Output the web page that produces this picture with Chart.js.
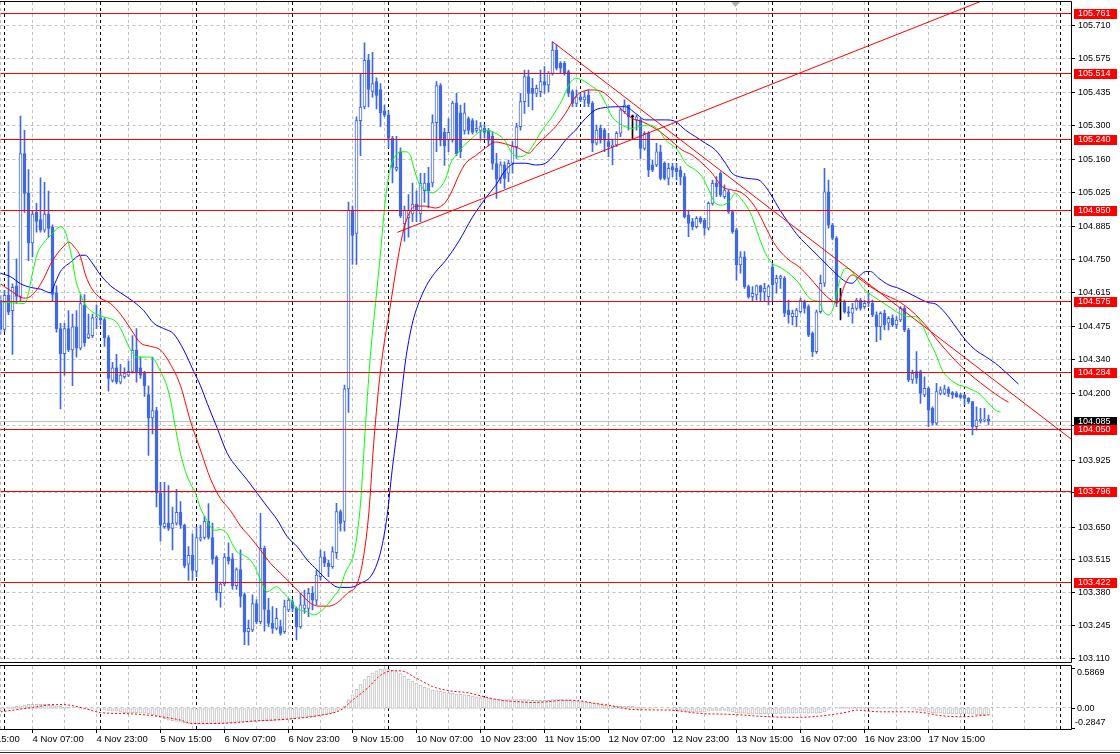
<!DOCTYPE html>
<html>
<head>
<meta charset="utf-8">
<script src="https://cdn.jsdelivr.net/npm/chart.js@4.4.1/dist/chart.umd.min.js"></script>
<style>
  html, body { margin: 0; padding: 0; background: #fff; overflow: hidden; }
  #wrap { position: relative; width: 1120px; height: 754px; background: #fff; }
  canvas { position: absolute; left: 0; }
  #main { top: 0; }
  #macd { top: 665px; }
</style>
</head>
<body>
<div id="wrap">
  <canvas id="main" width="1120" height="664"></canvas>
  <canvas id="macd" width="1120" height="89"></canvas>
</div>
<script>
// USDJPY-like H1 candles, 3 Nov 23:00 .. 18 Nov 06:00 (bar index 0..247)
const opens = [
  104.58,104.46,104.60,104.537,104.639,104.595,105.182,105.020,104.815,104.940,
  104.911,104.867,104.933,104.881,104.610,104.463,104.360,104.463,104.375,104.470,
  104.382,104.559,104.426,104.434,104.507,104.507,104.500,104.426,104.250,104.302,
  104.243,104.265,104.272,104.287,104.375,104.302,104.280,104.192,104.096,104.126,
  103.788,103.649,103.664,103.642,103.664,103.708,103.656,103.495,103.532,103.466,
  103.598,103.605,103.671,103.605,103.524,103.378,103.414,103.524,103.517,103.407,
  103.473,103.370,103.218,103.225,103.334,103.259,103.560,103.307,103.252,103.232,
  103.239,103.218,103.307,103.341,103.314,103.239,103.314,103.314,103.376,103.348,
  103.444,103.526,103.499,103.485,103.543,103.711,103.671,104.215,104.950,104.854,
  105.317,105.373,105.565,105.437,105.477,105.445,105.357,105.341,105.245,105.117,
  105.189,104.894,104.918,104.934,104.974,104.934,105.029,105.061,105.061,105.309,
  105.461,105.269,105.237,105.237,105.389,105.349,105.277,105.325,105.317,105.277,
  105.277,105.285,105.277,105.253,105.141,105.080,105.135,105.101,105.142,105.210,
  105.292,105.395,105.498,105.450,105.429,105.436,105.477,105.463,105.511,105.607,
  105.552,105.552,105.518,105.436,105.388,105.415,105.402,105.422,105.388,105.224,
  105.285,105.278,105.231,105.210,105.217,105.265,105.354,105.381,105.333,105.320,
  105.320,105.203,105.265,105.135,105.135,105.189,105.142,105.080,105.128,105.121,
  105.114,105.087,104.929,104.902,104.882,104.916,104.909,104.875,104.977,105.059,
  105.101,105.005,105.025,104.943,104.868,104.724,104.758,104.635,104.594,104.601,
  104.639,104.614,104.594,104.717,104.649,104.669,104.669,104.539,104.512,104.512,
  104.532,104.573,104.553,104.443,104.368,104.532,104.649,105.025,104.888,104.834,
  104.573,104.573,104.532,104.526,104.546,104.580,104.553,104.573,104.567,104.519,
  104.471,104.526,104.485,104.505,104.478,104.498,104.546,104.457,104.252,104.286,
  104.286,104.190,104.218,104.135,104.074,104.197,104.197,104.215,104.200,104.197,
  104.190,104.190,104.176,104.163,104.060,104.085,104.087,104.090
];
const highs = [
  104.60,104.62,104.82,104.647,104.749,105.336,105.277,105.116,104.947,104.977,
  105.082,105.064,105.028,104.889,104.639,104.485,104.485,104.537,104.522,104.537,
  104.603,104.603,104.522,104.522,104.559,104.537,104.507,104.434,104.324,104.357,
  104.316,104.302,104.330,104.434,104.463,104.346,104.287,104.228,104.346,104.140,
  103.832,103.832,103.818,103.730,103.803,103.752,103.660,103.568,103.620,103.649,
  103.656,103.693,103.744,103.664,103.530,103.422,103.539,103.583,103.539,103.480,
  103.554,103.378,103.266,103.369,103.350,103.704,103.570,103.355,103.321,103.314,
  103.266,103.348,103.355,103.350,103.320,103.376,103.389,103.396,103.403,103.471,
  103.553,103.547,103.512,103.567,103.745,103.719,104.231,104.982,104.966,105.333,
  105.509,105.637,105.589,105.597,105.493,105.469,105.381,105.357,105.253,105.253,
  105.205,104.966,105.013,105.061,105.029,105.101,105.101,105.125,105.341,105.477,
  105.469,105.285,105.325,105.397,105.429,105.381,105.389,105.333,105.325,105.317,
  105.309,105.301,105.285,105.269,105.183,105.148,105.148,105.155,105.231,105.306,
  105.429,105.525,105.525,105.491,105.463,105.525,105.539,105.518,105.641,105.628,
  105.559,105.559,105.525,105.443,105.443,105.429,105.436,105.443,105.395,105.299,
  105.299,105.285,105.265,105.237,105.272,105.367,105.402,105.381,105.340,105.340,
  105.326,105.272,105.272,105.155,105.224,105.217,105.148,105.142,105.142,105.142,
  105.128,105.101,104.950,104.916,104.923,104.923,104.916,104.984,105.073,105.087,
  105.107,105.053,105.032,104.950,104.875,104.779,104.779,104.642,104.635,104.642,
  104.642,104.649,104.642,104.730,104.683,104.683,104.676,104.580,104.539,104.546,
  104.587,104.580,104.560,104.450,104.539,104.683,105.121,105.073,104.895,104.841,
  104.628,104.580,104.553,104.567,104.587,104.587,104.580,104.608,104.580,104.532,
  104.532,104.539,104.512,104.519,104.512,104.553,104.553,104.464,104.293,104.368,
  104.293,104.265,104.224,104.142,104.238,104.224,104.231,104.224,104.204,104.204,
  104.197,104.194,104.180,104.163,104.142,104.135,104.135,104.108
];
const lows = [
  104.44,104.45,104.52,104.357,104.566,104.573,104.940,104.742,104.757,104.859,
  104.859,104.859,104.837,104.573,104.448,104.133,104.272,104.368,104.228,104.346,
  104.375,104.390,104.422,104.426,104.463,104.478,104.390,104.206,104.243,104.236,
  104.236,104.258,104.265,104.280,104.243,104.258,104.184,103.942,104.030,103.730,
  103.590,103.642,103.634,103.554,103.656,103.642,103.480,103.429,103.430,103.444,
  103.590,103.598,103.598,103.495,103.348,103.319,103.407,103.495,103.392,103.392,
  103.319,103.165,103.163,103.218,103.250,103.250,103.220,103.239,103.211,103.225,
  103.204,103.211,103.300,103.300,103.184,103.232,103.293,103.280,103.307,103.328,
  103.430,103.485,103.444,103.478,103.519,103.631,103.631,104.119,104.726,104.726,
  105.173,105.365,105.373,105.413,105.365,105.293,105.333,105.205,105.061,105.109,
  104.918,104.822,104.838,104.902,104.902,104.902,104.982,104.958,105.045,105.189,
  105.213,105.133,105.189,105.229,105.173,105.165,105.261,105.261,105.261,105.269,
  105.237,105.245,105.213,105.117,104.998,105.059,105.039,105.066,105.101,105.162,
  105.278,105.347,105.374,105.361,105.415,105.415,105.429,105.436,105.504,105.525,
  105.511,105.504,105.415,105.374,105.374,105.395,105.374,105.374,105.189,105.217,
  105.224,105.189,105.169,105.135,105.210,105.251,105.347,105.278,105.244,105.278,
  105.162,105.196,105.087,105.107,105.128,105.073,105.073,105.053,105.087,105.073,
  105.053,104.916,104.840,104.868,104.875,104.895,104.847,104.868,104.970,105.005,
  105.005,104.998,104.936,104.854,104.662,104.690,104.628,104.587,104.573,104.580,
  104.573,104.573,104.560,104.573,104.608,104.628,104.512,104.485,104.478,104.471,
  104.526,104.526,104.430,104.348,104.361,104.526,104.635,104.875,104.827,104.553,
  104.498,104.526,104.512,104.485,104.539,104.539,104.546,104.553,104.512,104.409,
  104.416,104.457,104.457,104.471,104.464,104.491,104.450,104.245,104.238,104.238,
  104.156,104.183,104.060,104.067,104.067,104.190,104.190,104.183,104.176,104.180,
  104.176,104.149,104.156,104.026,104.046,104.074,104.080,104.067
];
const closes = [
  104.46,104.60,104.53,104.632,104.595,105.182,105.018,104.815,104.933,104.903,
  104.867,104.933,104.874,104.603,104.463,104.360,104.463,104.375,104.470,104.382,
  104.566,104.404,104.441,104.507,104.510,104.500,104.426,104.258,104.302,104.243,
  104.272,104.280,104.287,104.375,104.280,104.272,104.228,104.096,104.126,103.788,
  103.656,103.664,103.642,103.664,103.708,103.656,103.488,103.532,103.470,103.605,
  103.605,103.671,103.605,103.517,103.378,103.414,103.524,103.510,103.407,103.473,
  103.363,103.216,103.232,103.334,103.259,103.560,103.310,103.252,103.232,103.273,
  103.211,103.321,103.348,103.314,103.239,103.328,103.328,103.376,103.348,103.451,
  103.526,103.499,103.485,103.547,103.711,103.663,104.215,104.950,104.846,105.317,
  105.373,105.565,105.445,105.469,105.421,105.349,105.341,105.245,105.125,105.125,
  104.926,104.950,104.950,104.974,104.950,105.061,105.061,105.029,105.309,105.461,
  105.237,105.213,105.269,105.389,105.181,105.189,105.349,105.277,105.269,105.285,
  105.293,105.269,105.237,105.141,105.077,105.135,105.080,105.142,105.210,105.292,
  105.395,105.498,105.429,105.429,105.450,105.477,105.463,105.511,105.607,105.532,
  105.532,105.511,105.429,105.388,105.415,105.402,105.415,105.388,105.224,105.278,
  105.237,105.237,105.210,105.217,105.265,105.361,105.381,105.333,105.333,105.333,
  105.203,105.265,105.114,105.114,105.189,105.080,105.080,105.121,105.114,105.107,
  105.087,104.923,104.895,104.882,104.916,104.902,104.875,104.977,105.059,105.046,
  105.012,105.032,104.943,104.861,104.724,104.758,104.635,104.594,104.608,104.639,
  104.614,104.628,104.635,104.642,104.669,104.676,104.526,104.519,104.526,104.539,
  104.580,104.546,104.436,104.368,104.532,104.649,105.025,104.888,104.834,104.567,
  104.573,104.532,104.526,104.546,104.580,104.546,104.567,104.567,104.519,104.471,
  104.526,104.478,104.505,104.478,104.498,104.546,104.457,104.252,104.279,104.259,
  104.197,104.218,104.128,104.074,104.204,104.211,104.215,104.197,104.190,104.183,
  104.180,104.176,104.163,104.060,104.087,104.090,104.090,104.085
];

// Alligator lines (bar index -> price)
const lipsBars = [0,6,8.3,9.2,10.8,12.5,15,16.25,17,18,18.75,20,21.25,22.5,25,26.7,28.75,30,31.25,32.5,
  34.2,36.7,38.3,40,41.25,42.5,43.75,45,46.25,47.5,48.75,50,51.25,52.5,53.75,55,56.7,57.9,59.2,60.8,
  62.5,64,65,66.7,69,70.8,72.5,74,76.7,78.3,80,81.7,83.3,85,86.25,87.5,88.5,90,91.25,92.5,
  93.75,95,96.25,97.5,98.75,100,101.25,102.5,103.3,104.6,106.7,107.9,109.6,111.25,112.5,114.2,115.8,117.9,119.6,121.25,
  122.9,125.2,126.25,127.9,129.6,131.25,132.9,135.4,137.9,140.4,142.1,143.75,145.4,147.9,149.6,151.25,152.9,154.6,156.25,157.9,
  159.6,162.1,164.6,166.25,167.9,169.6,171.25,173.75,175.4,177.1,178.75,180.4,182.1,183.75,185.4,187.1,187.9,189.6,191.25,192.9,
  194.6,197.1,199.6,201.25,202.9,204.6,205.8,207.1,208.3,209.6,211.25,212.5,213.75,215.4,217.1,219.6,222.1,224.6,227.1,228.75,
  230.4,232.1,233.75,235.4,237.1,239.6,241.25,242.9,244.6,246.25,248.75,250];
const lipsValues = [104.573,104.566,104.713,104.771,104.815,104.845,104.881,104.859,104.815,104.742,
  104.668,104.603,104.559,104.537,104.515,104.507,104.493,104.463,104.419,104.375,
  104.346,104.346,104.338,104.287,104.243,104.170,104.053,103.950,103.876,103.825,
  103.788,103.725,103.686,103.649,103.634,103.638,103.620,103.580,103.545,103.532,
  103.512,103.471,103.430,103.382,103.403,103.376,103.348,103.314,103.300,103.287,
  103.300,103.328,103.362,103.403,103.463,103.500,103.550,103.745,104.069,104.358,
  104.566,104.774,104.998,105.125,105.173,105.189,105.189,105.173,105.125,105.061,
  105.029,105.021,105.037,105.077,105.141,105.181,105.213,105.245,105.269,105.277,
  105.272,105.250,105.231,105.183,105.169,105.176,105.210,105.278,105.333,105.402,
  105.463,105.491,105.484,105.457,105.436,105.388,105.333,105.306,105.292,105.285,
  105.292,105.299,105.278,105.237,105.217,105.189,105.142,105.114,105.087,105.032,
  104.977,104.970,104.984,105.018,104.991,104.950,104.923,104.840,104.772,104.731,
  104.717,104.690,104.649,104.608,104.580,104.573,104.532,104.519,104.553,104.649,
  104.710,104.704,104.676,104.635,104.608,104.580,104.553,104.526,104.512,104.512,
  104.478,104.416,104.361,104.293,104.259,104.231,104.224,104.211,104.197,104.170,
  104.128,104.120];

const teethBars = [0,3.3,5.8,7.5,9.2,10.8,12.5,14.2,15.8,17.1,18.3,20,21.25,22.9,25,27.5,30,32.5,35,37.5,
  40,42.5,45,47.5,50,52.5,55,57.5,60,62.5,65,67.5,70,72.5,75,77.5,79.6,82.1,84.2,86.7,
  89.2,90.8,92.1,93.3,94.6,95.8,97.1,98.3,99.6,100.8,102.1,103.75,106.25,108.75,111.25,112.9,114.6,116.25,118.75,121.25,
  123.75,127.1,129.6,132.1,133.75,136.25,138.75,141.25,143.75,145.4,147.9,150.4,152.9,155.4,157.9,160.4,162.9,165.4,167.9,170.4,
  172.9,175.4,177.9,180.4,182.9,185.4,188.75,191.25,192.9,194.6,197.1,199.6,202.1,204.6,207.1,209.2,211.25,212.9,214.6,217,
  220,225,230,235,240,245,250,252];
const teethValues = [104.647,104.610,104.588,104.595,104.625,104.668,104.727,104.771,104.801,104.818,
  104.801,104.757,104.683,104.625,104.588,104.566,104.522,104.463,104.404,104.390,
  104.375,104.316,104.228,104.082,103.964,103.845,103.765,103.715,103.652,103.605,
  103.553,103.499,103.458,103.417,103.376,103.335,103.323,103.323,103.337,103.376,
  103.417,103.530,103.710,103.991,104.231,104.390,104.518,104.646,104.774,104.870,
  104.934,104.966,104.966,104.958,104.982,105.029,105.093,105.141,105.173,105.205,
  105.229,105.217,105.203,105.183,105.210,105.251,105.292,105.347,105.415,105.436,
  105.443,105.436,105.402,105.361,105.326,105.313,105.292,105.265,105.231,105.196,
  105.176,105.142,105.101,105.046,105.032,105.020,104.960,104.881,104.827,104.786,
  104.745,104.717,104.676,104.628,104.587,104.569,104.649,104.683,104.669,104.640,
  104.610,104.570,104.500,104.400,104.310,104.240,104.180,104.160];

const jawBars = [0,2.5,5,7.5,10,12.5,13.75,15,17.5,20,21.25,22.5,25,27.5,30,33.3,35.8,38.3,40.8,43.3,
  45.8,48.3,50,51.7,54.2,56.7,59.2,61.5,64.2,66.7,69.2,71.7,74.2,76.7,79.2,81.7,84.6,87.5,90,92.5,
  94.2,95.5,96.7,97.9,99.6,101.25,102.9,104.6,106.5,108.5,111.25,114.6,117.9,121.25,123.75,126.25,128.75,131.25,133.75,136.25,
  138.75,141.25,143.75,146.25,148.75,151.25,153.75,156.25,158.75,161.25,163.75,166.25,168.75,171.25,173.75,176.25,178.75,181.25,182.9,184.6,
  187.7,189.6,191.25,192.9,194.6,197.1,199.6,202.1,204.6,207.1,209.2,211.25,212.9,214.6,216.25,217.5,219.6,222.1,224.6,227.1,
  229.6,232.1,233.75,236.25,238.75,241.25,243.75,246.25,248.75,250.2,254.5];
const jawValues = [104.690,104.676,104.647,104.632,104.625,104.610,104.654,104.698,104.735,104.764,
  104.764,104.742,104.683,104.639,104.610,104.573,104.537,104.485,104.463,104.441,
  104.375,104.287,104.228,104.155,104.053,103.950,103.891,103.845,103.786,103.731,
  103.677,103.608,103.567,103.512,103.471,103.430,103.400,103.400,103.417,103.444,
  103.500,103.580,103.700,103.880,104.100,104.330,104.480,104.570,104.640,104.690,
  104.742,104.822,104.918,104.998,105.050,105.114,105.142,105.142,105.135,105.142,
  105.183,105.237,105.278,105.326,105.361,105.371,105.374,105.374,105.347,105.320,
  105.320,105.320,105.313,105.278,105.251,105.224,105.196,105.142,105.101,105.087,
  105.078,105.073,105.046,105.005,104.957,104.895,104.840,104.799,104.758,104.717,
  104.683,104.656,104.649,104.676,104.697,104.697,104.669,104.642,104.628,104.608,
  104.587,104.569,104.564,104.526,104.471,104.416,104.375,104.348,104.320,104.300,
  104.235];

// trend lines drawn on the chart
const supportBars = [99.2, 250];
const supportPrices = [104.858, 105.839];
const resistBars = [138, 267.75];
const resistPrices = [105.641, 104.008];

// horizontal levels and current price
const levels = [105.761, 105.514, 105.240, 104.950, 104.575, 104.284, 104.050, 103.796, 103.422];
const lastPrice = 104.085;

// MACD
const macdHist = [
  0.01,0.01,0.02,0.02,0.03,0.04,0.05,
  0.06,0.06,0.06,0.06,0.06,0.06,0.05,0.04,0.03,0.02,
  0.01,0.00,0.00,-0.01,-0.01,-0.01,-0.01,-0.01,-0.01,-0.02,-0.03,-0.04,-0.04,-0.05,
  -0.06,-0.06,-0.06,-0.06,-0.07,-0.07,-0.08,-0.09,-0.11,-0.13,
  -0.15,-0.17,-0.18,-0.19,-0.20,-0.21,-0.22,-0.23,-0.23,-0.23,
  -0.23,-0.23,-0.23,-0.22,-0.22,-0.22,-0.21,-0.21,-0.20,-0.20,-0.20,-0.20,-0.19,-0.19,-0.18,-0.18,-0.18,-0.18,-0.17,-0.17,-0.16,-0.16,
  -0.15,-0.14,-0.14,-0.13,-0.12,-0.12,-0.11,-0.10,-0.09,-0.08,-0.06,-0.04,
  -0.02,0.04,0.13,0.20,0.28,0.35,0.42,0.47,0.52,0.55,0.57,0.58,0.57,0.56,0.54,0.51,
  0.47,0.43,0.40,0.37,0.34,0.31,0.29,0.27,0.26,0.25,0.24,0.23,0.22,0.21,0.21,0.20,0.19,0.18,0.17,0.16,
  0.16,0.15,0.14,0.14,0.13,0.13,0.13,0.13,0.13,0.13,0.13,0.13,0.12,
  0.12,0.12,0.12,0.12,0.13,0.13,0.13,0.12,0.12,0.11,0.11,0.10,0.10,0.09,0.08,0.07,0.06,
  0.05,0.04,0.04,0.03,0.03,0.03,0.03,0.03,0.02,0.02,0.01,0.01,0.01,0.00,0.00,0.00,-0.01,
  -0.01,-0.02,-0.03,-0.04,-0.05,-0.05,-0.05,-0.05,-0.05,-0.04,-0.03,-0.03,-0.03,-0.03,-0.04,-0.05,-0.06,
  -0.07,-0.07,-0.08,-0.08,-0.08,-0.08,-0.08,-0.08,-0.08,-0.08,-0.08,-0.07,-0.07,-0.07,-0.07,-0.07,
  -0.07,-0.07,-0.07,-0.07,-0.06,-0.05,
  -0.02,0.00,0.01,0.02,0.02,0.02,0.02,0.02,0.02,0.02,0.02,0.02,0.01,0.01,0.01,0.01,0.01,0.01,0.01,0.00,0.00,-0.01,-0.02,-0.03,-0.04,
  -0.05,-0.06,-0.07,-0.07,-0.08,-0.08,-0.08,-0.08,-0.08,-0.08,-0.08,-0.08,-0.09,-0.09,-0.09,-0.09
];
const signalBars = [0,8,14,17,21,25,33,40,45,48,53,58,63,72,80,85,88,92,95,98,
  100,104,108,112,117,121,125,129,133,137,141,145,148,152,158,167,175,183,192,200,
  203,207,212,214,217,220,228,232,234,240,247];
const signalValues = [-0.05,0.015,0.058,0.05,0.0,-0.06,-0.08,-0.12,-0.17,-0.22,-0.22,-0.21,-0.185,-0.155,-0.10,-0.024,0.12,0.31,0.485,0.55,
  0.55,0.44,0.32,0.26,0.228,0.17,0.121,0.10,0.087,0.10,0.121,0.11,0.08,0.048,-0.015,-0.024,-0.073,-0.087,-0.121,-0.13,
  -0.121,-0.097,-0.049,-0.024,-0.039,-0.049,-0.049,-0.073,-0.097,-0.121,-0.097];
const macdTicks = [0.5869, 0.00, -0.2847];

// axes
const priceTicks = [105.710,105.575,105.435,105.300,105.160,105.025,104.885,104.750,104.615,104.475,
  104.340,104.200,104.065,103.925,103.790,103.650,103.515,103.380,103.245,103.110];
const gridBars = [0,8,16,24,32,40,48,56,64,72,80,88,96,104,112,120,128,136,144,152,160,168,176,184,192,200,208,216,224,232,240,248,256,264];
const daySeparators = [1,25,49,73,97,121,145,169,193,217,241,265];
const timeLabelBars = [-8,8,24,40,56,72,88,104,120,136,152,168,184,200,216,232];
const timeLabels = ['3 Nov 15:00','4 Nov 07:00','4 Nov 23:00','5 Nov 15:00','6 Nov 07:00','6 Nov 23:00',
  '9 Nov 15:00','10 Nov 07:00','10 Nov 23:00','11 Nov 15:00','12 Nov 07:00','12 Nov 23:00',
  '13 Nov 15:00','16 Nov 07:00','16 Nov 23:00','17 Nov 15:00'];

const BLUE = '#4169e1';
const FONT = '9px "Liberation Sans", Arial, sans-serif';
const XMAX = 267.75;
const bars = opens.map((_, i) => i);
const isDoji = i => opens[i] === closes[i];
const pts = (xs, ys) => xs.map((x, k) => ({x: x, y: ys[k]}));
const row = v => Math.round(v) + 0.5;
const col = v => Math.floor(v) + 0.5;

function drawVerticalGrid(ctx, a, xs) {
  ctx.lineWidth = 1;
  ctx.setLineDash([3, 3]);
  ctx.strokeStyle = '#c0c0c0';
  ctx.beginPath();
  gridBars.forEach(i => { const p = col(xs.getPixelForValue(i)); ctx.moveTo(p, a.top); ctx.lineTo(p, a.bottom); });
  ctx.stroke();
  ctx.strokeStyle = '#000';
  ctx.beginPath();
  daySeparators.forEach(i => { const p = col(xs.getPixelForValue(i)); if (p < a.right) { ctx.moveTo(p, a.top); ctx.lineTo(p, a.bottom); } });
  ctx.stroke();
  ctx.setLineDash([]);
}

const mainDecor = {
  id: 'mainDecor',
  beforeDatasetsDraw(chart) {
    const {ctx, chartArea: a, scales: {x: xs, y: ys}} = chart;
    ctx.save();
    ctx.lineWidth = 1;
    ctx.setLineDash([3, 3]);
    ctx.strokeStyle = '#c0c0c0';
    ctx.beginPath();
    priceTicks.forEach(v => { const p = row(ys.getPixelForValue(v)); ctx.moveTo(a.left, p); ctx.lineTo(a.right, p); });
    ctx.stroke();
    drawVerticalGrid(ctx, a, xs);
    ctx.strokeStyle = '#c0c0c0';
    ctx.beginPath();
    const lp = row(ys.getPixelForValue(lastPrice));
    ctx.moveTo(a.left, lp); ctx.lineTo(a.right, lp);
    ctx.stroke();
    ctx.restore();
  },
  afterDatasetsDraw(chart) {
    const {ctx, chartArea: a, scales: {y: ys}} = chart;
    ctx.save();
    ctx.lineWidth = 1;
    ctx.strokeStyle = '#ff0000';
    ctx.beginPath();
    levels.forEach(v => { const p = row(ys.getPixelForValue(v)); ctx.moveTo(a.left, p); ctx.lineTo(a.right, p); });
    ctx.stroke();
    // frame
    ctx.strokeStyle = '#000';
    ctx.beginPath();
    ctx.moveTo(0, 1.5); ctx.lineTo(1071.5, 1.5); ctx.lineTo(1071.5, 662.5); ctx.lineTo(0, 662.5);
    ctx.stroke();
    // price axis
    ctx.font = FONT;
    ctx.textBaseline = 'middle';
    ctx.textAlign = 'left';
    ctx.fillStyle = '#000';
    ctx.beginPath();
    priceTicks.forEach(v => {
      const p = row(ys.getPixelForValue(v));
      ctx.moveTo(1072, p); ctx.lineTo(1075, p);
      ctx.fillText(v.toFixed(3), 1078, p);
    });
    ctx.stroke();
    // level tags
    const tag = (v, bg) => {
      const p = Math.round(ys.getPixelForValue(v));
      ctx.fillStyle = bg;
      ctx.fillRect(1074, p - 4, 43, 10);
      ctx.fillStyle = '#fff';
      ctx.fillText(v.toFixed(3), 1078, p + 1);
    };
    tag(lastPrice, '#000');
    levels.forEach(v => tag(v, '#ff0000'));
    // chart shift marker
    ctx.fillStyle = '#b0b0b0';
    ctx.beginPath();
    ctx.moveTo(731, 2); ctx.lineTo(740, 2); ctx.lineTo(735.5, 7); ctx.closePath();
    ctx.fill();
    ctx.restore();
  }
};

const lineSet = (xsArr, ysArr, color, order) => ({
  type: 'line', data: pts(xsArr, ysArr), borderColor: color, borderWidth: 1,
  pointRadius: 0, fill: false, cubicInterpolationMode: 'monotone', order: order
});

new Chart(document.getElementById('main'), {
  type: 'bar',
  data: {
    datasets: [
      Object.assign(lineSet(supportBars, supportPrices, '#ff0000', 0), {cubicInterpolationMode: 'default', tension: 0}),
      Object.assign(lineSet(resistBars, resistPrices, '#ff0000', 0), {cubicInterpolationMode: 'default', tension: 0}),
      lineSet(lipsBars, lipsValues, '#00ff00', 1),
      lineSet(teethBars, teethValues, '#ff0000', 1),
      lineSet(jawBars, jawValues, '#0000ff', 1),
      {
        type: 'bar', data: bars.map(i => ({x: i, y: [opens[i], closes[i]]})), order: 2,
        grouped: false, barThickness: 3, minBarLength: 1,
        backgroundColor: bars.map(i => isDoji(i) ? '#000' : (closes[i] > opens[i] ? '#fff' : BLUE)),
        borderColor: bars.map(i => isDoji(i) ? '#000' : BLUE),
        borderWidth: 1, borderSkipped: false
      },
      {
        type: 'bar', data: bars.map(i => ({x: i, y: [lows[i], highs[i]]})), order: 3,
        grouped: false, barThickness: 1,
        backgroundColor: bars.map(i => isDoji(i) ? '#000' : BLUE),
        borderWidth: 0
      }
    ]
  },
  options: {
    responsive: false, animation: false, devicePixelRatio: 1, events: [],
    layout: {padding: {left: 0.5, right: 48.5, top: 2, bottom: 2}},
    plugins: {legend: {display: false}, tooltip: {enabled: false}},
    scales: {
      x: {type: 'linear', min: 0, max: XMAX, display: false, offset: false},
      y: {type: 'linear', min: 103.0936, max: 105.8042, display: false}
    }
  },
  plugins: [mainDecor]
});

const macdDecor = {
  id: 'macdDecor',
  beforeDatasetsDraw(chart) {
    const {ctx, chartArea: a, scales: {x: xs, y: ys}} = chart;
    ctx.save();
    drawVerticalGrid(ctx, {left: a.left, right: a.right, top: 1, bottom: 64}, xs);
    ctx.setLineDash([3, 3]);
    ctx.strokeStyle = '#c0c0c0';
    ctx.beginPath();
    const z = row(ys.getPixelForValue(0)) - 1;
    ctx.moveTo(a.left, z); ctx.lineTo(a.right, z);
    ctx.stroke();
    ctx.restore();
  },
  afterDatasetsDraw(chart) {
    const {ctx, chartArea: a, scales: {x: xs, y: ys}} = chart;
    ctx.save();
    ctx.lineWidth = 1;
    ctx.strokeStyle = '#000';
    ctx.beginPath();
    ctx.moveTo(0, 0.5); ctx.lineTo(1071.5, 0.5); ctx.lineTo(1071.5, 64.5); ctx.lineTo(0, 64.5);
    ctx.stroke();
    ctx.font = FONT;
    ctx.fillStyle = '#000';
    ctx.textBaseline = 'middle';
    ctx.textAlign = 'left';
    const offs = [4, 0, -6];
    ctx.beginPath();
    macdTicks.forEach((v, k) => {
      const p = row(ys.getPixelForValue(v));
      ctx.moveTo(1072, p); ctx.lineTo(1075, p);
      const txt = v === 0 ? '0.00' : v.toFixed(4);
      ctx.fillText(txt, v < 0 ? 1075 : 1077, p + offs[k]);
    });
    ctx.stroke();
    // time axis
    ctx.font = '9.5px "Liberation Sans", Arial, sans-serif';
    ctx.beginPath();
    timeLabelBars.forEach((b, k) => {
      const px = xs.getPixelForValue(b);
      ctx.moveTo(col(px), 65); ctx.lineTo(col(px), 68);
      ctx.fillText(timeLabels[k], px, 74.5);
    });
    ctx.stroke();
    ctx.strokeStyle = '#c8c8c8';
    ctx.beginPath(); ctx.moveTo(0, 85.5); ctx.lineTo(1120, 85.5); ctx.stroke();
    ctx.strokeStyle = '#303030';
    ctx.beginPath(); ctx.moveTo(0, 87.5); ctx.lineTo(1120, 87.5); ctx.stroke();
    ctx.restore();
  }
};

new Chart(document.getElementById('macd'), {
  type: 'bar',
  data: {
    datasets: [
      {
        type: 'line', data: pts(signalBars, signalValues), borderColor: '#ff0000', borderWidth: 1,
        borderDash: [2, 2], pointRadius: 0, fill: false, cubicInterpolationMode: 'monotone', order: 0
      },
      {
        type: 'bar', data: bars.map(i => ({x: i, y: macdHist[i]})), order: 1,
        grouped: false, barThickness: 3, backgroundColor: '#fff', borderColor: '#c0c0c0',
        borderWidth: 1, borderSkipped: false
      }
    ]
  },
  options: {
    responsive: false, animation: false, devicePixelRatio: 1, events: [],
    layout: {padding: {left: 0.5, right: 48.5, top: 1, bottom: 25}},
    plugins: {legend: {display: false}, tooltip: {enabled: false}},
    scales: {
      x: {type: 'linear', min: 0, max: XMAX, display: false, offset: false},
      y: {type: 'linear', min: -0.30, max: 0.62, display: false}
    }
  },
  plugins: [macdDecor]
});
</script>
</body>
</html>
